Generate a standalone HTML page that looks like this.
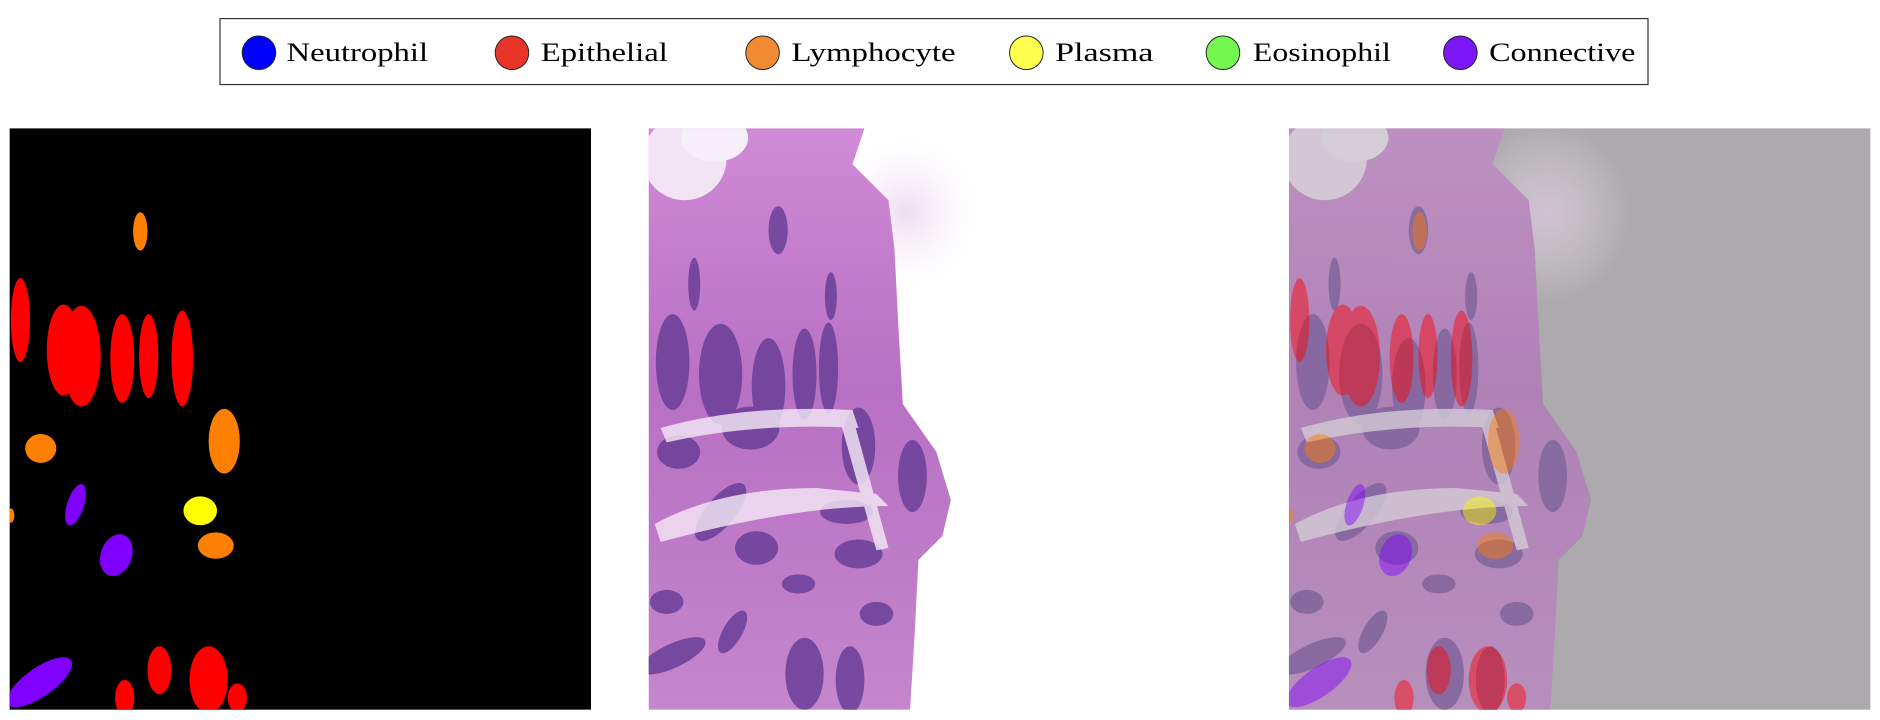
<!DOCTYPE html>
<html><head><meta charset="utf-8">
<style>
html,body{margin:0;padding:0;background:#fff;width:1880px;height:720px;overflow:hidden}
svg{display:block}
text{font-family:"Liberation Serif",serif}
</style></head>
<body>
<svg width="1880" height="720" viewBox="0 0 1568 600.5" preserveAspectRatio="none">
<defs>
<linearGradient id="tg" x1="0" y1="0" x2="0" y2="1">
<stop offset="0" stop-color="#d08ad6"/><stop offset="0.45" stop-color="#b870c4"/><stop offset="1" stop-color="#c486cc"/>
</linearGradient>
<radialGradient id="haze" cx="0.5" cy="0.5" r="0.5">
<stop offset="0" stop-color="#ecdcee"/><stop offset="1" stop-color="#ffffff" stop-opacity="0"/>
</radialGradient>
<g id="tissue">
<ellipse cx="215" cy="70" rx="70" ry="75" fill="url(#haze)"/>
<path d="M0,0 L180,0 L170,30 L200,60 L205,100 L208,160 L212,230 L240,270 L252,310 L245,340 L225,360 L222,420 L218,485 L0,485 Z" fill="url(#tg)"/>
<ellipse cx="30" cy="25" rx="35" ry="35" fill="#f2e4f4"/>
<ellipse cx="55" cy="8" rx="28" ry="20" fill="#f6eef8"/>
<g fill="#6a3f98" opacity="0.85">
<ellipse cx="108" cy="85" rx="8" ry="20"/>
<ellipse cx="38" cy="130" rx="5" ry="22"/>
<ellipse cx="152" cy="140" rx="5" ry="20"/>
<ellipse cx="20" cy="195" rx="14" ry="40"/>
<ellipse cx="60" cy="205" rx="18" ry="42"/>
<ellipse cx="100" cy="215" rx="14" ry="40"/>
<ellipse cx="130" cy="205" rx="10" ry="38"/>
<ellipse cx="150" cy="200" rx="8" ry="38"/>
<ellipse cx="85" cy="250" rx="24" ry="18"/>
<ellipse cx="175" cy="265" rx="14" ry="32"/>
<ellipse cx="220" cy="290" rx="12" ry="30"/>
<ellipse cx="25" cy="270" rx="18" ry="14"/>
<ellipse cx="60" cy="320" rx="12" ry="30" transform="rotate(40 60 320)"/>
<ellipse cx="165" cy="320" rx="22" ry="10"/>
<ellipse cx="175" cy="355" rx="20" ry="12"/>
<ellipse cx="90" cy="350" rx="18" ry="14"/>
<ellipse cx="125" cy="380" rx="14" ry="8"/>
<ellipse cx="15" cy="395" rx="14" ry="10"/>
<ellipse cx="70" cy="420" rx="8" ry="20" transform="rotate(30 70 420)"/>
<ellipse cx="190" cy="405" rx="14" ry="10"/>
<ellipse cx="20" cy="440" rx="30" ry="10" transform="rotate(-25 20 440)"/>
<ellipse cx="130" cy="455" rx="16" ry="30"/>
<ellipse cx="168" cy="460" rx="12" ry="28"/>
</g>
<g fill="#f6eaf7" opacity="0.8">
<path d="M10,250 Q80,230 170,235 L175,250 Q90,245 15,262 Z"/>
<path d="M5,330 Q60,300 140,300 L190,305 L200,315 Q120,315 10,345 Z"/>
<path d="M170,240 L200,350 L190,352 L160,245 Z"/>
</g>
</g>
</defs>

<!-- legend -->
<g>
<rect x="183.5" y="15.5" width="1191" height="55" fill="#fff" stroke="#333" stroke-width="1"/>
<g><circle cx="216" cy="44" r="14" fill="#0000ff" stroke="#222" stroke-width="0.8"/><text x="239" y="51" font-size="22" textLength="118" lengthAdjust="spacingAndGlyphs" fill="#000">Neutrophil</text></g>
<g><circle cx="427" cy="44" r="14" fill="#e83527" stroke="#222" stroke-width="0.8"/><text x="451" y="51" font-size="22" textLength="106" lengthAdjust="spacingAndGlyphs" fill="#000">Epithelial</text></g>
<g><circle cx="636" cy="44" r="14" fill="#f08a33" stroke="#222" stroke-width="0.8"/><text x="660" y="51" font-size="22" textLength="137" lengthAdjust="spacingAndGlyphs" fill="#000">Lymphocyte</text></g>
<g><circle cx="856" cy="44" r="14" fill="#ffff4d" stroke="#222" stroke-width="0.8"/><text x="880" y="51" font-size="22" textLength="82" lengthAdjust="spacingAndGlyphs" fill="#000">Plasma</text></g>
<g><circle cx="1020" cy="44" r="14" fill="#72f84f" stroke="#222" stroke-width="0.8"/><text x="1045" y="51" font-size="22" textLength="115" lengthAdjust="spacingAndGlyphs" fill="#000">Eosinophil</text></g>
<g><circle cx="1218" cy="44" r="14" fill="#7b16f5" stroke="#222" stroke-width="0.8"/><text x="1242" y="51" font-size="22" textLength="122" lengthAdjust="spacingAndGlyphs" fill="#000">Connective</text></g>
</g>

<!-- panel 1: mask -->
<g>
<svg x="8" y="107" width="485" height="485" viewBox="0 0 485 485">
<rect width="485" height="485" fill="#000"/>
<g id="blobs">
<ellipse cx="109" cy="86" rx="6" ry="16" fill="#ff7f00"/>
<ellipse cx="9" cy="160" rx="8" ry="35" fill="#ff0000"/>
<ellipse cx="45" cy="185" rx="14" ry="38" fill="#ff0000"/>
<ellipse cx="60" cy="190" rx="16" ry="42" fill="#ff0000"/>
<ellipse cx="94" cy="192" rx="10" ry="37" fill="#ff0000"/>
<ellipse cx="116" cy="190" rx="8" ry="35" fill="#ff0000"/>
<ellipse cx="144" cy="192" rx="9" ry="40" fill="#ff0000"/>
<ellipse cx="26" cy="267" rx="13" ry="12" fill="#ff7f00"/>
<ellipse cx="179" cy="261" rx="13" ry="27" fill="#ff7f00"/>
<ellipse cx="55" cy="314" rx="7" ry="18" fill="#8000ff" transform="rotate(18 55 314)"/>
<ellipse cx="159" cy="319" rx="14" ry="12" fill="#ffff00"/>
<ellipse cx="172" cy="348" rx="15" ry="11" fill="#ff7f00"/>
<ellipse cx="89" cy="356" rx="13" ry="18" fill="#8000ff" transform="rotate(20 89 356)"/>
<ellipse cx="1" cy="323" rx="3" ry="6" fill="#ff7f00"/>
<ellipse cx="25" cy="462" rx="12" ry="32" fill="#8000ff" transform="rotate(55 25 462)"/>
<ellipse cx="125" cy="452" rx="10" ry="20" fill="#ff0000"/>
<ellipse cx="166" cy="460" rx="16" ry="28" fill="#ff0000"/>
<ellipse cx="96" cy="475" rx="8" ry="15" fill="#ff0000"/>
<ellipse cx="190" cy="475" rx="8" ry="12" fill="#ff0000"/>
</g>
</svg>
</g>

<!-- panel 2: tissue -->
<g>
<svg x="541" y="107" width="485" height="485" viewBox="0 0 485 485">
<rect width="485" height="485" fill="#fff"/>
<use href="#tissue"/>
</svg>
</g>

<!-- panel 3: overlay -->
<g>
<svg x="1075" y="107" width="485" height="485" viewBox="0 0 485 485">
<rect width="485" height="485" fill="#b3b3b3"/>
<g opacity="0.7"><use href="#tissue"/></g>
<rect width="485" height="485" fill="#8a7a8c" opacity="0.15"/>
<g opacity="0.45"><use href="#blobs"/></g>
</svg>
</g>
</svg>
</body></html>
